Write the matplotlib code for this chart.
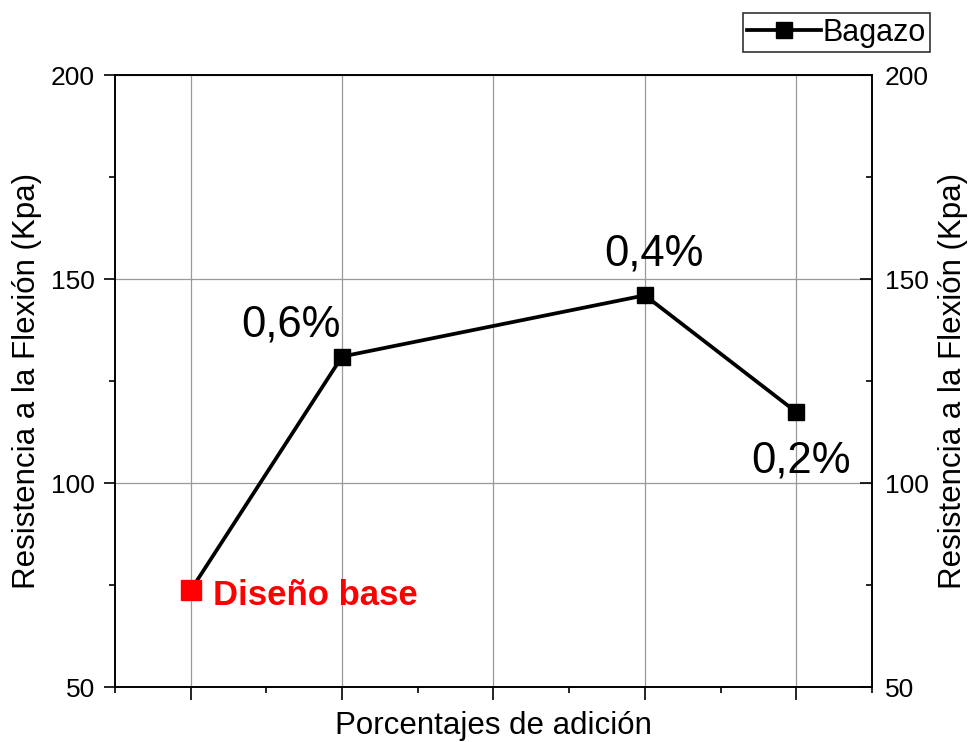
import matplotlib
matplotlib.use("Agg")
import matplotlib.pyplot as plt
from matplotlib.ticker import MultipleLocator

plt.rcParams['font.family'] = ['Liberation Sans', 'DejaVu Sans']

# Data
x_pos = [0, 1, 3, 4]
resistencia = [73.7, 131.0, 146.0, 117.4]
series_name = "Bagazo"
point_labels = ["Diseño base", "0,6%", "0,4%", "0,2%"]
y_ticks = [50, 100, 150, 200]

fig = plt.figure(figsize=(9.71, 7.42), dpi=100)
ax = fig.add_axes([0.1184, 0.0741, 0.7796, 0.8248])

ax.set_xlim(-0.5, 4.5)
ax.set_ylim(50, 200)

# Black line with black square markers (first point is drawn red separately)
ax.plot(x_pos, resistencia, color='black', lw=2.7, marker='s', ms=12,
        markevery=[1, 2, 3], label=series_name, zorder=3)
ax.plot(x_pos[0], resistencia[0], marker='s', ms=15, color='red',
        ls='none', zorder=4)

# Annotations
ax.text(x_pos[0] + 0.145, 70.1, point_labels[0], color='red', fontsize=25,
        fontweight='bold', ha='left', va='baseline')
ax.text(0.66, 135.8, point_labels[1], fontsize=31.5, ha='center', va='baseline')
ax.text(3.06, 153.4, point_labels[2], fontsize=31.5, ha='center', va='baseline')
ax.text(4.03, 102.5, point_labels[3], fontsize=31.5, ha='center', va='baseline')

# Grid
ax.set_xticks([0, 1, 2, 3, 4])
ax.xaxis.set_minor_locator(MultipleLocator(0.5))
ax.set_yticks(y_ticks)
ax.yaxis.set_minor_locator(MultipleLocator(25))
ax.grid(True, which='major', color='#999999', lw=0.9, zorder=0)
ax.set_axisbelow(True)

ax.tick_params(axis='x', which='major', direction='out', length=9, width=1.2,
               labelbottom=False, top=False)
ax.tick_params(axis='x', which='minor', direction='out', length=4.5, width=1.2, top=False)
ax.tick_params(axis='y', which='major', direction='out', length=8, width=1.2,
               labelsize=19, pad=6.5, right=False)
ax.tick_params(axis='y', which='minor', direction='out', length=4, width=1.2, right=False)
for s in ax.spines.values():
    s.set_linewidth(1.2)

ax.set_xlabel("Porcentajes de adición", fontsize=22.5)
ax.xaxis.set_label_coords(0.5, -0.04)
ax.set_ylabel("Resistencia a la Flexión (Kpa)", fontsize=22.5)
ax.yaxis.set_label_coords(-0.0964, 0.5)

# Right axis
ax2 = ax.twinx()
ax2.set_ylim(50, 200)
ax2.set_yticks(y_ticks)
ax2.yaxis.set_minor_locator(MultipleLocator(25))
ax2.tick_params(axis='y', which='major', direction='in', length=8.5, width=1.2,
                labelsize=19, pad=9.4)
ax2.tick_params(axis='y', which='minor', direction='in', length=4, width=1.2)
ax2.set_ylabel("Resistencia a la Flexión (Kpa)", fontsize=22.5, rotation=90)
ax2.yaxis.set_label_coords(1.087, 0.5)
for s in ax2.spines.values():
    s.set_linewidth(1.2)

# Legend outside, top right
leg = ax.legend(loc='upper right', bbox_to_anchor=(930 / 971, 1 - 13 / 742),
                bbox_transform=fig.transFigure, fontsize=22, frameon=True,
                fancybox=False, edgecolor='black', borderpad=0.15,
                handlelength=2.4, handletextpad=0.05, borderaxespad=0,
                markerscale=1.0)
leg.get_frame().set_linewidth(1.2)

fig.savefig("out.png", dpi=100)
